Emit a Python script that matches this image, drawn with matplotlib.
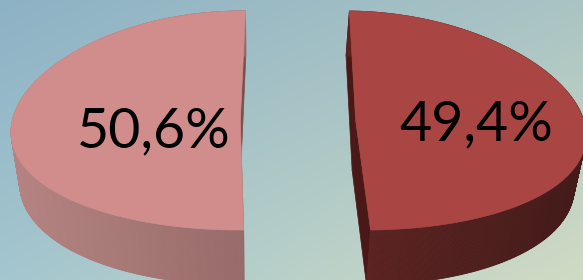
import numpy as np
import matplotlib
matplotlib.use("Agg")
import matplotlib.pyplot as plt
from matplotlib.patches import Polygon
from matplotlib.collections import PolyCollection
from matplotlib.colors import to_rgb

# ---------------- data ----------------
labels = ["50,6%", "49,4%"]
values = [50.6, 49.4]

# ---------------- style ----------------
top_colors = ["#D08D8B", "#A94543"]
side_light = ["#B68583", "#5C2321"]
side_dark = ["#6C4846", "#431B19"]
cut_colors = ["#7A4F4D", "#4A1917"]
label_frac = [0.38, 0.53]        # radial position of labels
label_base = [147, 140]          # baseline (pixel rows)

W, H = 583, 280
fig = plt.figure(figsize=(W / 100, H / 100), dpi=100)
ax = fig.add_axes([0, 0, 1, 1])
ax.set_xlim(0, W)
ax.set_ylim(H, 0)
ax.axis("off")

# background gradient
tl, tr = np.array(to_rgb("#8DB2C5")), np.array(to_rgb("#AAC4C4"))
bl, br = np.array(to_rgb("#A4C6CF")), np.array(to_rgb("#D0DBC3"))
u = np.linspace(0, 1, W)[None, :, None]
v = np.linspace(0, 1, H)[:, None, None]
bg = (1 - v) * ((1 - u) * tl + u * tr) + v * ((1 - u) * bl + u * br)
ax.imshow(bg, extent=(0, W, H, 0), aspect="auto", zorder=0, interpolation="bilinear")

# 3D pie geometry
cx0, yc = 298.0, 120.5
rx, ry = 228.0, 109.5
depth = 50.0
explode = 57.7
xvp, p, q = 254.0, 0.1, 0.035 / 50.0


def proj(X, V, z):
    s = 1 - p * V
    x = xvp + (X - xvp) * s * (1 + q * z)
    y = yc - ry * V - z * s
    return x, y


total = sum(values)
angles = [360.0 * val / total for val in values]
start = 180.0 - angles[0] / 2.0
for i, (val, ang) in enumerate(zip(values, angles)):
    t1, t2 = start, start + ang
    start = t2
    mid = np.radians((t1 + t2) / 2)
    Xc = cx0 + explode * np.cos(mid)
    Vc = explode * np.sin(mid) / ry
    th = np.radians(np.linspace(t1, t2, 400))
    AX = Xc + rx * np.cos(th)
    AV = Vc + np.sin(th)

    # cut faces
    for tt in (t1, t2):
        r = np.radians(tt)
        ex, ev = Xc + rx * np.cos(r), Vc + np.sin(r)
        pts = [proj(Xc, Vc, 0), proj(ex, ev, 0), proj(ex, ev, -depth), proj(Xc, Vc, -depth)]
        ax.add_patch(Polygon(pts, closed=True, facecolor=cut_colors[i],
                             edgecolor=cut_colors[i], lw=0.5, zorder=2))

    # curved side
    quads, cols, keys = [], [], []
    c_l, c_d = np.array(to_rgb(side_light[i])), np.array(to_rgb(side_dark[i]))
    for k in range(len(th) - 1):
        a = proj(AX[k], AV[k], 0)
        b = proj(AX[k + 1], AV[k + 1], 0)
        c = proj(AX[k + 1], AV[k + 1], -depth)
        d = proj(AX[k], AV[k], -depth)
        quads.append([a, b, c, d])
        xm = (a[0] + b[0]) / 2
        f = np.clip(xm / W, 0, 1) if i == 0 else np.clip((xm - 360) / 223, 0, 1)
        cols.append(tuple((1 - f) * c_l + f * c_d))
        keys.append(-np.sin((th[k] + th[k + 1]) / 2))
    order = np.argsort(keys)
    pc = PolyCollection([quads[j] for j in order], facecolors=[cols[j] for j in order],
                        edgecolors=[cols[j] for j in order], linewidths=0.6, zorder=3)
    ax.add_collection(pc)

    # top face
    top = [proj(Xc, Vc, 0)] + [proj(x, vv, 0) for x, vv in zip(AX, AV)]
    ax.add_patch(Polygon(top, closed=True, facecolor=top_colors[i],
                         edgecolor=top_colors[i], lw=0.5, zorder=4))

    # label
    lx, _ = proj(Xc + label_frac[i] * rx * np.cos(mid), Vc, 0)
    ax.text(lx, label_base[i], labels[i], ha="center", va="baseline",
            fontsize=40, family="Lato", color="black", zorder=5)

fig.savefig("out.png", dpi=100)
